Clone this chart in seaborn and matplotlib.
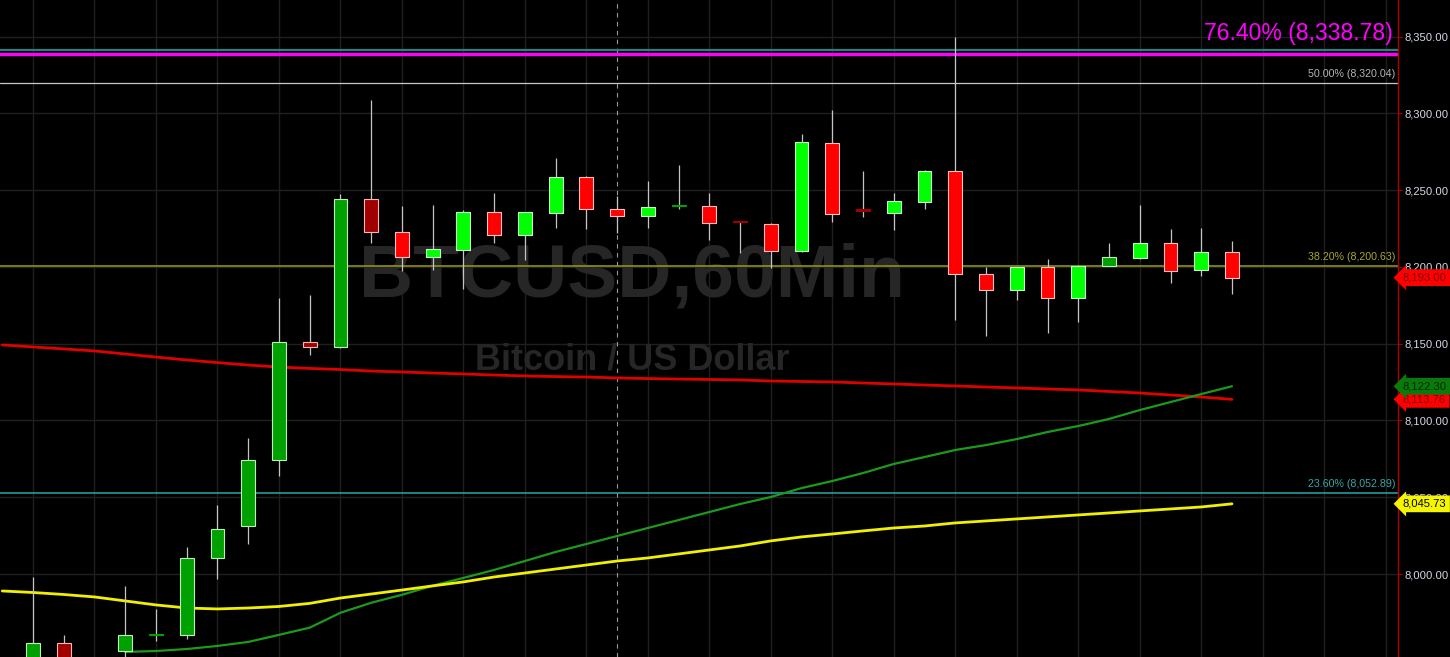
import matplotlib
matplotlib.use("Agg")
import matplotlib.pyplot as plt
import matplotlib.transforms as mtransforms
from matplotlib import font_manager
from matplotlib.ticker import FuncFormatter
import numpy as np
import pandas as pd
import seaborn as sns

# ==========================================
# DATA
# ==========================================
nan = np.nan

# slot -1 is the bar just off the left edge (only the averages show there)
bar_index = list(range(-1, 40))

opens = [nan, 7940, 7955, nan, 7950, 7960.3, 7960.4, 8010.7, 8031.3, 8074.3, 8151.3,
         8148, 8244.2, 8222.9, 8206.7, 8211, 8235.5, 8220.6, 8235.3, 8258.7, 8237.5,
         8233.1, 8239.5, 8239.7, 8229.2, 8228.1, 8210.4, 8280.9, 8236.5, 8235.3, 8242.4,
         8262.4, 8195.2, 8184.8, 8199.7, 8179.6, 8200.8, 8206, 8215.8, 8198, 8209.9]
highs = [nan, 7998, 7960, nan, 7992, 7977, 8017.6, 8044.8, 8088.4, 8180, 8181.5,
         8247.3, 8308.7, 8239.8, 8240.3, 8237, 8248.3, 8236, 8270.7, 8259, 8246.2,
         8256.1, 8266.3, 8248.3, 8229.5, 8228.5, 8286.3, 8302.1, 8262.6, 8247.9, 8263,
         8350, 8200, 8200, 8205.1, 8201, 8215.4, 8240.3, 8224.7, 8225.3, 8216.9]
lows = [nan, 7930, 7935, nan, 7946, 7956.5, 7957.8, 7996.6, 8019.4, 8064.1, 8142.6,
        8147.5, 8215.8, 8197.5, 8198, 8185.4, 8215.8, 8204.5, 8225.1, 8224.5, 8222,
        8225.1, 8238, 8217.5, 8209.2, 8199.1, 8210, 8229.4, 8232.7, 8224, 8237.5,
        8165.4, 8155.2, 8178.5, 8156.8, 8163.9, 8200.5, 8205, 8189.7, 8194.1, 8182.4]
closes = [nan, 7955, 7942, nan, 7960, 7961, 8010.7, 8029.1, 8074.3, 8151.3, 8148,
          8244.2, 8222.5, 8206.7, 8211.5, 8235.9, 8220.6, 8235.5, 8258.7, 8237.5, 8233.1,
          8239.2, 8240, 8228.4, 8228.8, 8210.2, 8281.5, 8234.4, 8236.1, 8242.7, 8262.4,
          8195.2, 8184.8, 8199.7, 8179.6, 8200.8, 8206.3, 8215.8, 8197.5, 8209.9, 8193.0]

# body colour per bar: dg = dark green, bg = bright green, dr = dark red, r = red
body_kind = ["dg", "dg", "dr", "dg", "dg", "dg", "dg", "dg", "dg", "dg", "dr",
             "dg", "dr", "r", "bg", "bg", "r", "bg", "bg", "r", "r",
             "bg", "dg", "r", "dr", "r", "bg", "r", "dr", "bg", "bg",
             "r", "r", "bg", "r", "bg", "dg", "bg", "r", "bg", "r"]

ma_red = [8149.2, 8147.9, 8146.6, 8145.3, 8143.3, 8141.3, 8139.4, 8137.7, 8136.1, 8134.8,
          8133.9, 8133.2, 8132.2, 8131.6, 8130.9, 8130.3, 8129.6, 8129.0, 8128.6, 8128.3,
          8127.7, 8127.3, 8127.0, 8126.7, 8126.4, 8125.7, 8125.4, 8125.1, 8124.4, 8123.8,
          8123.1, 8122.5, 8121.8, 8121.2, 8120.5, 8119.9, 8118.9, 8117.9, 8116.6, 8115.3,
          8113.76]
ma_green = [nan, nan, nan, nan, 7949.3, 7949.9, 7951.2, 7953.2, 7955.8, 7960.4,
            7965.1, 7974.8, 7981.3, 7986.5, 7992.4, 7997.5, 8002.7, 8008.5, 8014.4, 8019.6,
            8024.8, 8030.0, 8035.2, 8040.4, 8045.6, 8050.2, 8056.0, 8060.6, 8065.8, 8071.7,
            8076.2, 8080.8, 8084.0, 8087.9, 8092.5, 8096.4, 8101.0, 8106.8, 8112.0, 8117.2,
            8122.30]
ma_yellow = [7989.0, 7988.0, 7986.7, 7985.1, 7982.5, 7979.9, 7977.9, 7977.3, 7977.9, 7978.9,
             7980.9, 7984.4, 7987.0, 7989.6, 7992.3, 7994.9, 7998.1, 8000.7, 8003.3, 8005.9,
             8008.5, 8010.5, 8013.1, 8015.7, 8018.3, 8021.6, 8024.2, 8026.1, 8028.1, 8030.0,
             8031.3, 8033.3, 8034.6, 8035.9, 8037.2, 8038.5, 8039.8, 8041.1, 8042.4, 8043.7,
             8045.73]

fib_levels = [8338.78, 8320.04, 8200.63, 8052.89]
fib_names = ["76.40%", "50.00%", "38.20%", "23.60%"]
extra_level = 8341.5  # thin teal line just above the 76.4% level

price_ticks = [8000, 8050, 8100, 8150, 8200, 8250, 8300, 8350]
crosshair_bar = 19

# ==========================================
# STYLE
# ==========================================
sns.set_theme(style="dark", rc={"axes.facecolor": "black", "figure.facecolor": "black"})

# narrow font if there is one, else plain Liberation Sans at a smaller size
installed = {f.name for f in font_manager.fontManager.ttflist}
narrow = next((n for n in ["Liberation Sans Narrow", "Arial Narrow", "DejaVu Sans Condensed"]
               if n in installed), None)
if narrow:
    plt.rcParams["font.family"] = [narrow, "DejaVu Sans"]
    fs = 1.2
else:
    plt.rcParams["font.family"] = ["Liberation Sans", "DejaVu Sans"]
    fs = 1.0

kind_colors = {"dg": "#00a000", "bg": "#00ff00", "dr": "#a00000", "r": "#ff0000"}
kind_edges = {"dg": "#b8f0b8", "bg": "#c8ffc8", "dr": "#f0b8b8", "r": "#ffc0c0"}

df = pd.DataFrame({
    "bar": bar_index, "open": opens, "high": highs, "low": lows, "close": closes,
    "kind": body_kind, "ma_red": ma_red, "ma_green": ma_green, "ma_yellow": ma_yellow,
})

fig = plt.figure(figsize=(14.5, 6.57), dpi=100)
ax = fig.add_axes([0, 0, 1398 / 1450, 1])
ax.set_facecolor("black")

# grid
ax.set_xticks(np.arange(0, 46, 2))
ax.set_yticks(price_ticks)
ax.grid(True, color="#1f1f1f", linewidth=1.0)
ax.set_axisbelow(True)

# watermark
ax.text(0.452, 0.548, "BTCUSD,60Min", transform=ax.transAxes, ha="center", va="baseline",
        fontsize=54 * fs, fontweight="bold", color="#262626", zorder=0.6)
ax.text(0.452, 0.438, "Bitcoin / US Dollar", transform=ax.transAxes, ha="center",
        va="baseline", fontsize=26 * fs, fontweight="bold", color="#262626", zorder=0.6)

# crosshair
ax.axvline(crosshair_bar, color="#9a9a9a", linewidth=0.8, linestyle=(0, (4, 4)), zorder=1)

# fib lines
ax.axhline(extra_level, color="#2a8080", linewidth=1.6, zorder=2)
ax.axhline(fib_levels[0], color="#ff00ff", linewidth=2.4, zorder=2)
ax.axhline(fib_levels[1], color="#c8c8c8", linewidth=0.9, zorder=2)
ax.axhline(fib_levels[2], color="#9a9a1a", linewidth=1.1, zorder=2)
ax.axhline(fib_levels[3], color="#2aa8a8", linewidth=1.1, zorder=2)

# moving averages
sns.lineplot(data=df, x="bar", y="ma_red", ax=ax, color="#e00000", linewidth=2.0, zorder=3)
sns.lineplot(data=df, x="bar", y="ma_green", ax=ax, color="#1c9a1c", linewidth=1.6, zorder=3)
sns.lineplot(data=df, x="bar", y="ma_yellow", ax=ax, color="#f0f000", linewidth=2.0, zorder=3)

# candles
ok = df.dropna(subset=["open"])
ax.vlines(ok["bar"], ok["low"], ok["high"], color="#c4c4c4", linewidth=0.9, zorder=4)
heights = (ok["close"] - ok["open"]).to_numpy()
doji = np.abs(heights) < 1.0
heights = np.where(doji, 0.9, heights)
faces = [kind_colors[k] for k in ok["kind"]]
edges = [kind_colors[k] if d else kind_edges[k] for k, d in zip(ok["kind"], doji)]
ax.bar(ok["bar"], heights, bottom=ok["open"], width=0.45,
       color=faces, edgecolor=edges, linewidth=0.8, zorder=5)

# fib labels
trans = mtransforms.blended_transform_factory(ax.transAxes, ax.transData)
ax.annotate(f"{fib_names[0]} ({fib_levels[0]:,.2f})", xy=(1.0, fib_levels[0]), xycoords=trans,
            xytext=(-4, 6), textcoords="offset points", ha="right", va="bottom",
            fontsize=16.6 * fs, color="#ff00ff", zorder=6)
fib_colors = [None, "#b4b4b4", "#a8a830", "#35a8a8"]
for k in range(1, 4):
    ax.annotate(f"{fib_names[k]} ({fib_levels[k]:,.2f})", xy=(1.0, fib_levels[k]),
                xycoords=trans, xytext=(-2, 2.5), textcoords="offset points",
                ha="right", va="bottom", fontsize=7.7 * fs, color=fib_colors[k], zorder=6)

# axes / ticks
ax.set_xlim(-1.0735, 44.40)
ax.set_ylim(7946.0, 8373.8)
ax.set_xlabel("")
ax.set_ylabel("")
ax.yaxis.tick_right()
ax.yaxis.set_major_formatter(FuncFormatter(lambda v, p: f"{v:,.2f}"))
ax.tick_params(axis="y", colors="#d4d8e4", labelsize=8.1 * fs, length=3, width=0.8, pad=2)
ax.tick_params(axis="y", color="#b00000")
ax.tick_params(axis="x", labelbottom=False, length=0)
for side in ["left", "top", "bottom"]:
    ax.spines[side].set_visible(False)
ax.spines["right"].set_color("#b00000")
ax.spines["right"].set_linewidth(1.0)

# last-value tags on the price axis
tags = [
    (closes[-1], "#ff0000", "#7a0000"),
    (ma_red[-1], "#ff0000", "#7a0000"),
    (ma_green[-1], "#0a7a0a", "#002a00"),
    (ma_yellow[-1], "#f5f500", "#000000"),
]
for val, bg, fg in tags:
    ax.text(1.0035, val, f"{val:,.2f}", transform=trans, ha="left", va="center",
            fontsize=8.1 * fs, color=fg, zorder=10, clip_on=False,
            bbox=dict(boxstyle="larrow,pad=0.3", facecolor=bg, edgecolor="none"))

fig.savefig("out.png", dpi=100, facecolor="black")
print("saved out.png")
